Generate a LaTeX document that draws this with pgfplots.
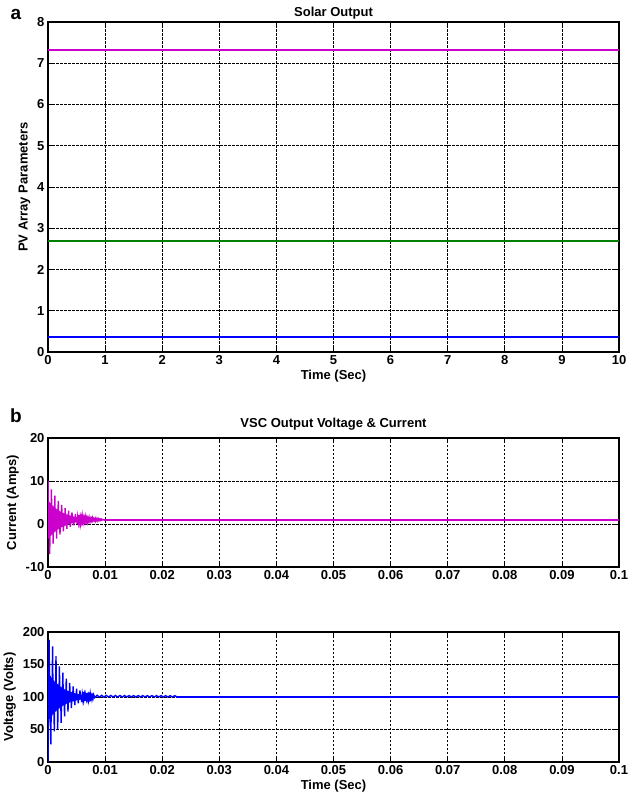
\documentclass[border=0pt]{standalone}
\usepackage{pgfplots}
\pgfplotsset{compat=1.18}
\usepackage{fontspec}
\setmainfont{Liberation Sans}
\definecolor{mmag}{RGB}{204,0,204}
\definecolor{mgreen}{RGB}{0,128,0}
\definecolor{mblue}{RGB}{0,0,255}
\pgfplotsset{
  mstyle/.style={
    scale only axis,
    width=571pt,
    axis line style={line width=1.1pt},
    grid=major,
    major grid style={black, line width=0.7pt, dash pattern=on 2.5pt off 1.5pt},
    tick align=inside,
    tick style={black, line width=0.7pt},
    major tick length=4pt,
    /pgf/number format/assume math mode=true,
    ticklabel style={font=\fontsize{13}{15}\selectfont\bfseries},
    label style={font=\fontsize{13}{15}\selectfont\bfseries},
    title style={font=\fontsize{13}{15}\selectfont\bfseries},
    xlabel style={yshift=2pt},
    clip=true,
  }
}
\begin{document}
\begin{tikzpicture}
\useasboundingbox (0,0) rectangle (630pt,-799pt);
\node[font=\fontsize{19}{21}\selectfont\bfseries] at (16pt,-14pt) {a};
\node[font=\fontsize{19}{21}\selectfont\bfseries] at (16pt,-416pt) {b};
% ---------- a: Solar output
\begin{axis}[mstyle, at={(48pt,-22pt)}, anchor=north west, height=330pt,
  xmin=0, xmax=10, ymin=0, ymax=8,
  xtick={0,1,2,3,4,5,6,7,8,9,10}, ytick={0,1,2,3,4,5,6,7,8},
  title style={yshift=-7pt},
  title={Solar Output}, xlabel={Time (Sec)}, ylabel={PV Array Parameters}]
\addplot[color=mblue, line width=2pt, mark=none] coordinates {(0,0.36) (2.5,0.36) (5,0.36) (7.5,0.36) (10,0.36)};
\addplot[color=mgreen, line width=2pt, mark=none] coordinates {(0,2.68) (2.5,2.68) (5,2.68) (7.5,2.68) (10,2.68)};
\addplot[color=mmag, line width=2pt, mark=none] coordinates {(0,7.33) (2.5,7.33) (5,7.33) (7.5,7.33) (10,7.33)};
\end{axis}
% ---------- b: current
\begin{axis}[mstyle, at={(48pt,-438pt)}, anchor=north west, height=129pt,
  xmin=0, xmax=0.1, ymin=-10, ymax=20,
  xtick={0,0.01,0.02,0.03,0.04,0.05,0.06,0.07,0.08,0.09,0.1},
  xticklabels={0,0.01,0.02,0.03,0.04,0.05,0.06,0.07,0.08,0.09,0.1},
  ytick={-10,0,10,20},
  title style={yshift=-2pt},
  title={VSC Output Voltage \& Current}, ylabel={Current (Amps)}]
\addplot[color=mmag, line width=1.4pt, mark=none] coordinates {
(0,0) (0.00002,10) (0.0001,-3.32) (0.0002,5.15) (0.0003,-7.0) (0.0004,4.83) (0.0005,-2.69)
(0.0006,8.08) (0.0007,-2.40) (0.0008,4.27) (0.0009,-4.58) (0.0010,4.02) (0.0011,-1.90)
(0.0012,6.57) (0.0013,-1.68) (0.0014,3.57) (0.0015,-3.39) (0.0016,3.37) (0.0017,-1.28)
(0.0018,5.38) (0.0019,-1.11) (0.0020,3.02) (0.0021,-2.46) (0.0022,2.87) (0.0023,-0.80)
(0.0024,4.45) (0.0025,-0.66) (0.0026,2.59) (0.0027,-1.72) (0.0028,2.47) (0.0029,-0.41)
(0.0030,3.71) (0.0031,-0.30) (0.0032,2.25) (0.0033,-1.14) (0.0034,2.16) (0.0035,-0.11)
(0.0036,3.13) (0.0037,-0.03) (0.0038,1.99) (0.0039,-0.68) (0.0040,1.91) (0.0041,0.13)
(0.0042,2.68) (0.0043,0.19) (0.0044,1.77) (0.0045,-0.32) (0.0046,1.72) (0.0047,0.31)
(0.0048,2.32) (0.0049,0.37) (0.0050,1.61) (0.0051,-0.04) (0.0052,1.56) (0.0053,0.46)
(0.0054,2.04) (0.0055,0.50) (0.0056,1.48) (0.0057,0.18) (0.0058,1.44) (0.0059,0.58)
(0.0060,1.82) (0.0061,0.61) (0.0062,1.38) (0.0063,0.36) (0.0064,1.35) (0.0065,0.67)
(0.0066,1.64) (0.0067,0.70) (0.0068,1.30) (0.0069,0.49) (0.0070,1.27) (0.0071,0.74)
(0.0072,1.50) (0.0073,0.77) (0.0074,1.23) (0.0075,0.61) (0.0076,1.22) (0.0077,0.81)
(0.0078,1.40) (0.0079,0.83) (0.0080,1.18) (0.0081,0.85) (0.0082,1.16) (0.0083,0.72)
(0.0084,1.30) (0.0085,0.87) (0.0086,1.13) (0.0087,0.78) (0.0088,1.22) (0.0089,0.90)
(0.0090,1.10) (0.0091,0.82) (0.0092,1.08) (0.0093,0.90) (0.0094,1.12) (0.0095,0.94)
(0.0096,1.00) (0.0097,0.95) (0.0098,0.98) (0.0100,0.9)};
\addplot[color=mmag, line width=2pt, mark=none] coordinates {(0.0098,0.9) (0.03,0.9) (0.05,0.9) (0.07,0.9) (0.1,0.9)};
\end{axis}
% ---------- b: voltage
\begin{axis}[mstyle, at={(48pt,-632pt)}, anchor=north west, height=130pt,
  xmin=0, xmax=0.1, ymin=0, ymax=200,
  xtick={0,0.01,0.02,0.03,0.04,0.05,0.06,0.07,0.08,0.09,0.1},
  xticklabels={0,0.01,0.02,0.03,0.04,0.05,0.06,0.07,0.08,0.09,0.1},
  ytick={0,50,100,150,200},
  xlabel={Time (Sec)}, ylabel={Voltage (Volts)}]
\addplot[color=mblue, line width=1.4pt, mark=none] coordinates {
(0,0) (0.0001,63.5) (0.0002,187.7) (0.0003,66.3) (0.0004,132.4) (0.0005,27.0)
(0.0006,129.9) (0.0007,71.3) (0.0008,178.0) (0.0009,73.5) (0.0010,125.5) (0.0011,47.2)
(0.0012,123.5) (0.0013,77.4) (0.0014,163.0) (0.0015,79.1) (0.0016,120.0) (0.0017,50.4)
(0.0018,118.5) (0.0019,82.2) (0.0020,147.0) (0.0021,83.6) (0.0022,115.8) (0.0023,60.3)
(0.0024,114.6) (0.0025,86.0) (0.0026,137.5) (0.0027,87.1) (0.0028,112.4) (0.0029,70.3)
(0.0030,111.4) (0.0031,89.0) (0.0032,128.4) (0.0033,89.9) (0.0034,109.8) (0.0035,77.7)
(0.0036,109.0) (0.0037,91.3) (0.0038,121.8) (0.0039,92.0) (0.0040,107.7) (0.0041,83.1)
(0.0042,107.1) (0.0043,93.2) (0.0044,116.3) (0.0045,93.7) (0.0046,106.0) (0.0047,87.5)
(0.0048,105.6) (0.0049,94.6) (0.0050,112.8) (0.0051,95.1) (0.0052,104.8) (0.0053,90.2)
(0.0054,104.4) (0.0055,95.8) (0.0056,110.1) (0.0057,96.1) (0.0058,103.7) (0.0059,92.3)
(0.0060,103.5) (0.0061,96.7) (0.0062,108.0) (0.0063,97.0) (0.0064,102.9) (0.0065,94.0)
(0.0066,102.7) (0.0067,97.4) (0.0068,106.3) (0.0069,97.6) (0.0070,102.3) (0.0071,95.3)
(0.0072,102.1) (0.0073,98.0) (0.0074,104.9) (0.0075,98.3) (0.0076,101.8) (0.0077,96.4)
(0.0078,101.7) (0.0079,98.4) (0.0080,103.5) (0.0082,99.0) (0.0086,102.8) (0.0090,99.6)
(0.0094,102.6) (0.0098,99.8) (0.0102,102.5) (0.0106,99.8) (0.0110,102.4) (0.0114,99.9)
(0.0118,102.3) (0.0122,99.9) (0.0126,102.3) (0.0130,99.9) (0.0134,102.2) (0.0138,100.0)
(0.0142,102.2) (0.0146,100.0) (0.0150,102.2) (0.0154,100.0) (0.0158,102.2) (0.0162,100.0)
(0.0166,102.1) (0.0170,100.0) (0.0174,102.1) (0.0178,100.0) (0.0182,102.1) (0.0186,100.0)
(0.0190,102.1) (0.0194,100.0) (0.0198,102.1) (0.0202,100.0) (0.0206,102.0) (0.0210,100.0)
(0.0214,102.0) (0.0218,100.0) (0.0222,102.0) (0.0225,100.5)};
\addplot[color=mblue, line width=2pt, mark=none] coordinates {(0.0225,100.5) (0.04,100.5) (0.06,100.5) (0.08,100.5) (0.1,100.5)};
\end{axis}
\end{tikzpicture}
\end{document}
